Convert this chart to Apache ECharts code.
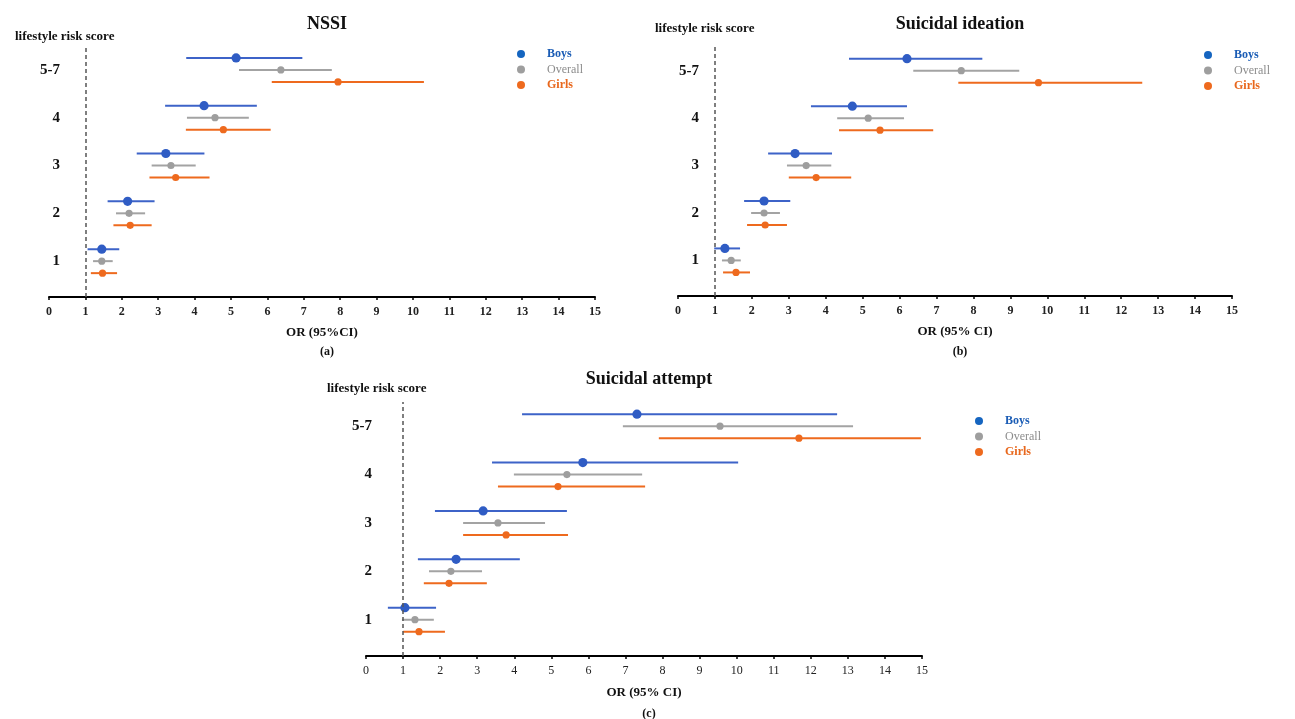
<!DOCTYPE html>
<html>
<head>
<meta charset="utf-8">
<script src="https://cdn.jsdelivr.net/npm/echarts@6/dist/echarts.min.js"></script>
<style>
  html, body { margin: 0; padding: 0; background: #fff; }
  #chart { width: 1295px; height: 719px; }
</style>
</head>
<body>
<div id="chart"></div>
<script>
// lifestyle risk score groups, bottom to top
const categories = ['1', '2', '3', '4', '5-7'];
const groups = ['Boys', 'Overall', 'Girls'];
const xTicks = [0, 15];

// each row: [lower CI, OR, upper CI]
const nssiBoys = [[1.06, 1.45, 1.93], [1.61, 2.16, 2.90], [2.41, 3.21, 4.27], [3.19, 4.26, 5.71], [3.77, 5.14, 6.96]];
const nssiOverall = [[1.21, 1.45, 1.75], [1.84, 2.20, 2.64], [2.82, 3.35, 4.03], [3.79, 4.56, 5.49], [5.22, 6.37, 7.77]];
const nssiGirls = [[1.15, 1.47, 1.87], [1.77, 2.23, 2.82], [2.76, 3.48, 4.41], [3.76, 4.79, 6.09], [6.12, 7.94, 10.30]];

const ideationBoys = [[0.98, 1.27, 1.68], [1.79, 2.33, 3.04], [2.44, 3.17, 4.17], [3.60, 4.72, 6.20], [4.63, 6.20, 8.24]];
const ideationOverall = [[1.19, 1.44, 1.70], [1.98, 2.33, 2.76], [2.95, 3.47, 4.15], [4.31, 5.15, 6.12], [6.37, 7.67, 9.24]];
const ideationGirls = [[1.22, 1.57, 1.95], [1.87, 2.36, 2.95], [3.00, 3.74, 4.69], [4.36, 5.47, 6.91], [7.59, 9.76, 12.57]];

const attemptBoys = [[0.59, 1.05, 1.89], [1.40, 2.43, 4.15], [1.86, 3.16, 5.42], [3.40, 5.85, 10.04], [4.21, 7.31, 12.71]];
const attemptOverall = [[0.97, 1.32, 1.83], [1.70, 2.29, 3.13], [2.62, 3.56, 4.83], [3.99, 5.42, 7.45], [6.93, 9.55, 13.14]];
const attemptGirls = [[1.00, 1.43, 2.13], [1.56, 2.24, 3.26], [2.62, 3.78, 5.45], [3.56, 5.18, 7.53], [7.90, 11.68, 14.97]];

const SERIF = '"Liberation Serif", "Times New Roman", serif';

// styling per group: line colour, dot colour, dot radius, vertical shift in px
const groupStyle = {
  Boys:    { line: '#3d63c8', dot: '#2f5cc4', r: 4.6, shift: -12, legend: '#1565c0', text: '#1a5cb5', weight: 'bold' },
  Overall: { line: '#a3a3a3', dot: '#9e9e9e', r: 3.6, shift: 0,   legend: '#9e9e9e', text: '#8c8c8c', weight: 'normal' },
  Girls:   { line: '#ee6a1e', dot: '#ee6a1e', r: 3.6, shift: 12,  legend: '#ee6a1e', text: '#e8671c', weight: 'bold' }
};

// panel layouts
const panels = [
  { title: 'NSSI', xName: 'OR (95%CI)', caption: '(a)', sets: [nssiBoys, nssiOverall, nssiGirls],
    grid: { left: 49, right: 700, top: 46, bottom: 422 }, labelMargin: -11, tickBold: true,
    titleY: 10, riskX: 10, riskY: 25, xNameGap: 29, captionY: 341,
    legend: { left: 512, top: 43 } },
  { title: 'Suicidal ideation', xName: 'OR (95% CI)', caption: '(b)', sets: [ideationBoys, ideationOverall, ideationGirls],
    grid: { left: 678, right: 63, top: 47, bottom: 423 }, labelMargin: -21, tickBold: true,
    titleY: 10, riskX: 650, riskY: 17, xNameGap: 29, captionY: 341,
    legend: { left: 1199, top: 44 } },
  { title: 'Suicidal attempt', xName: 'OR (95% CI)', caption: '(c)', sets: [attemptBoys, attemptOverall, attemptGirls],
    grid: { left: 366, right: 373, top: 402, bottom: 63 }, labelMargin: -6, tickBold: false,
    titleY: 365, riskX: 322, riskY: 377, xNameGap: 30, captionY: 703,
    legend: { left: 970, top: 410 } }
];

function makeRenderItem(style) {
  return function (params, api) {
    const y = api.value(3);
    const lo = api.coord([api.value(0), y]);
    const est = api.coord([api.value(1), y]);
    const hi = api.coord([api.value(2), y]);
    const dy = style.shift;
    return {
      type: 'group',
      children: [
        { type: 'line', shape: { x1: lo[0], y1: lo[1] + dy, x2: hi[0], y2: hi[1] + dy },
          style: { stroke: style.line, lineWidth: 2 } },
        { type: 'circle', shape: { cx: est[0], cy: est[1] + dy, r: style.r },
          style: { fill: style.dot } }
      ]
    };
  };
}

const grids = [], xAxes = [], yAxes = [], series = [], titles = [], legends = [];

panels.forEach(function (p, pi) {
  grids.push(Object.assign({ containLabel: false }, p.grid));

  xAxes.push({
    type: 'value', gridIndex: pi, min: xTicks[0], max: xTicks[1], interval: 1,
    name: p.xName, nameLocation: 'middle', nameGap: p.xNameGap,
    nameTextStyle: { fontFamily: SERIF, fontWeight: 'bold', fontSize: 13, color: '#111' },
    axisLine: { onZero: false, lineStyle: { color: '#000', width: 2 } },
    axisTick: { show: true, length: 3, lineStyle: { color: '#000', width: 1.5 } },
    axisLabel: { fontFamily: SERIF, fontWeight: p.tickBold ? 'bold' : 'normal', fontSize: 12, color: '#222', margin: 9 },
    splitLine: { show: false }
  });

  yAxes.push({
    type: 'value', gridIndex: pi, min: -0.75, max: 4.5, interval: 0.25,
    axisLine: { show: false }, axisTick: { show: false }, splitLine: { show: false },
    axisLabel: {
      fontFamily: SERIF, fontWeight: 'bold', fontSize: 15, color: '#111', margin: p.labelMargin,
      formatter: function (v) {
        const k = Math.round(v);
        return Math.abs(v - k) < 1e-6 && categories[k] !== undefined ? categories[k] : '';
      }
    }
  });

  groups.forEach(function (g, gi) {
    const st = groupStyle[g];
    const s = {
      type: 'custom', name: g, xAxisIndex: pi, yAxisIndex: pi,
      itemStyle: { color: st.legend },
      renderItem: makeRenderItem(st),
      encode: { x: [0, 1, 2], y: 3 },
      data: p.sets[gi].map(function (row, i) { return [row[0], row[1], row[2], i]; }),
      silent: true
    };
    if (gi === 1) {
      s.markLine = {
        silent: true, symbol: 'none', label: { show: false },
        lineStyle: { color: '#555', type: [4, 3], width: 1.5 },
        data: [{ xAxis: 1 }]
      };
    }
    series.push(s);
  });

  const cx = p.grid.left + (1295 - p.grid.left - p.grid.right) / 2;
  titles.push({ text: p.title, left: cx, top: p.titleY, textAlign: 'center',
    textStyle: { fontFamily: SERIF, fontWeight: 'bold', fontSize: 18, color: '#111' } });
  titles.push({ text: 'lifestyle risk score', left: p.riskX, top: p.riskY,
    textStyle: { fontFamily: SERIF, fontWeight: 'bold', fontSize: 13, color: '#111' } });
  titles.push({ text: p.caption, left: cx, top: p.captionY, textAlign: 'center',
    textStyle: { fontFamily: SERIF, fontWeight: 'bold', fontSize: 12, color: '#111' } });

  legends.push({
    orient: 'vertical', left: p.legend.left, top: p.legend.top,
    icon: 'circle', itemWidth: 42, itemHeight: 8, itemGap: 3.5, selectedMode: false,
    textStyle: { fontFamily: SERIF, fontSize: 12 },
    data: groups.map(function (g) {
      const st = groupStyle[g];
      return { name: g, itemStyle: { color: st.legend },
        textStyle: { color: st.text, fontWeight: st.weight, fontFamily: SERIF, fontSize: 12 } };
    })
  });
});

const chart = echarts.init(document.getElementById('chart'), null, { renderer: 'canvas' });
chart.setOption({
  backgroundColor: '#fff',
  animation: false,
  title: titles,
  legend: legends,
  grid: grids,
  xAxis: xAxes,
  yAxis: yAxes,
  series: series
});
</script>
</body>
</html>
